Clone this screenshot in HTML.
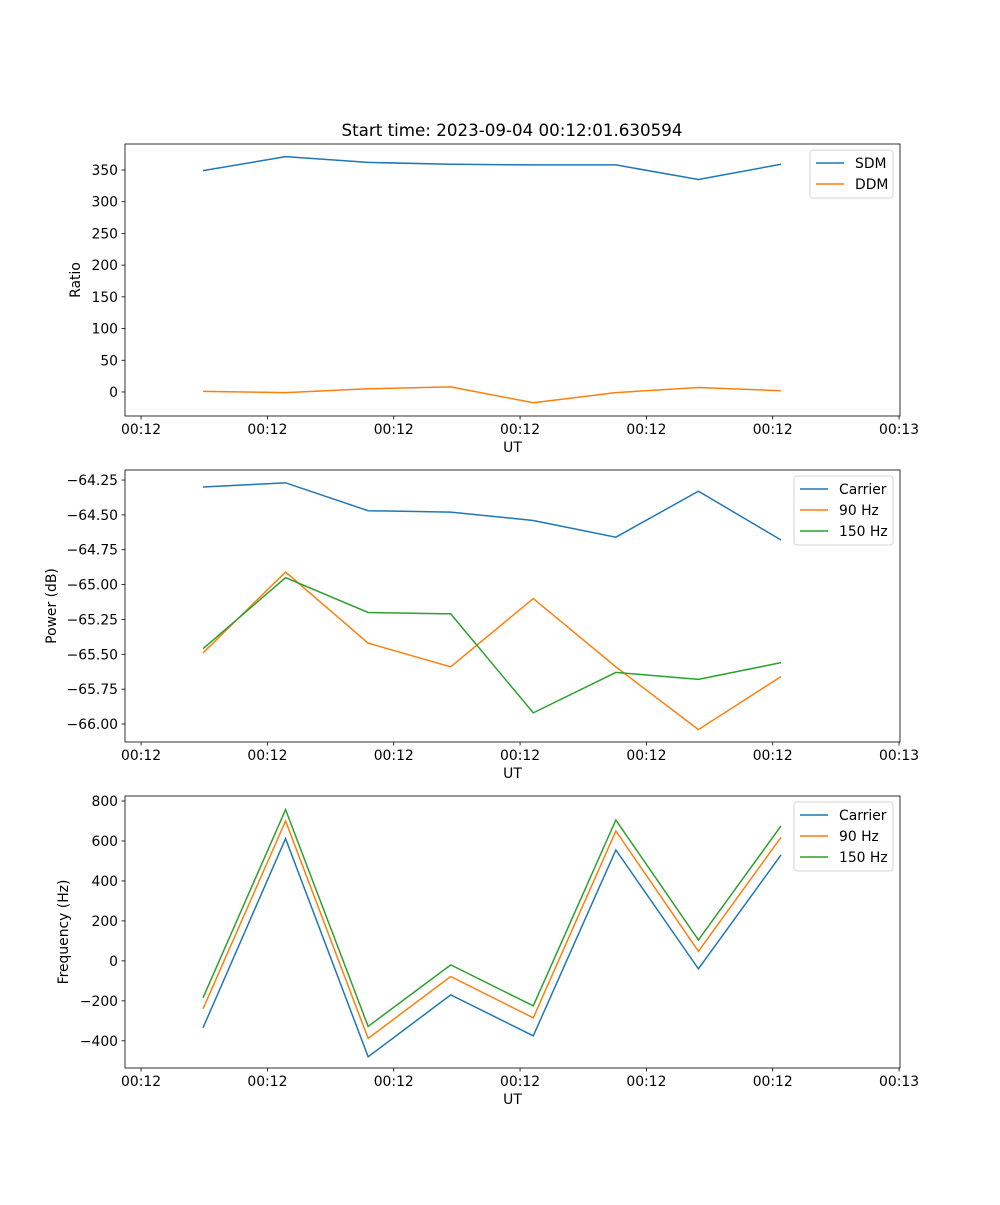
<!DOCTYPE html>
<html><head><meta charset="utf-8"><style>
body{margin:0;background:#fff}
text{font-family:"DejaVu Sans","Liberation Sans",sans-serif;font-size:13.9px;fill:#000}
</style></head><body>
<svg id="fig" width="1000" height="1200" xmlns="http://www.w3.org/2000/svg"></svg>
<script>
const pointIdx=[0,1,2,3,4,5,6,7];
const xTickPos=[-0.75,0.78,2.31,3.84,5.37,6.9,8.43];
const xTickLabels=["00:12","00:12","00:12","00:12","00:12","00:12","00:13"];
const sdm=[349,371,362,359,358,358,335,359];
const ddm=[1,-1,5,8,-17,-1,7,2];
const pCarrier=[-64.30,-64.27,-64.47,-64.48,-64.54,-64.66,-64.33,-64.68];
const p90=[-65.49,-64.91,-65.42,-65.59,-65.10,-65.59,-66.04,-65.66];
const p150=[-65.46,-64.95,-65.20,-65.21,-65.92,-65.63,-65.68,-65.56];
const fCarrier=[-335,612,-480,-170,-375,555,-40,530];
const f90=[-240,700,-388,-78,-285,650,48,618];
const f150=[-185,757,-328,-20,-225,705,105,675];
const ratioTicks=[0,50,100,150,200,250,300,350];
const powerTicks=[-66.00,-65.75,-65.50,-65.25,-65.00,-64.75,-64.50,-64.25];
const freqTicks=[-400,-200,0,200,400,600,800];
const C=["#1f77b4","#ff7f0e","#2ca02c"];
const svg=document.getElementById('fig');
const NS="http://www.w3.org/2000/svg";
function mk(tag,attrs,parent){const e=document.createElementNS(NS,tag);for(const k in attrs)e.setAttribute(k,attrs[k]);(parent||svg).appendChild(e);return e;}
const L=125,R=900;
const xs=i=>203+i*82.57;
const minus=s=>s.replace('-','\u2212');
function panel(name,top,bot,ymin,ymax,ticks,fmt,ylabel,series,names,legend,ylx){
  const g=mk('g',{});
  
  
  const ys=v=>bot-(v-ymin)/(ymax-ymin)*(bot-top);
  series.forEach((s,k)=>{
    const p=mk('polyline',{points:pointIdx.map(i=>xs(i)+','+ys(s[i])).join(' '),fill:'none',stroke:C[k],'stroke-width':1.5},g);
    
    
  });
  mk('rect',{x:L,y:top,width:R-L,height:bot-top,fill:'none',stroke:'#000','stroke-width':0.8},g);
  xTickPos.forEach((t,k)=>{const x=xs(t);mk('line',{x1:x,x2:x,y1:bot,y2:bot+3.5,stroke:'#000','stroke-width':0.8},g);
    const tx=mk('text',{x:x,y:bot+18,'text-anchor':'middle'},g);tx.textContent=xTickLabels[k];});
  ticks.forEach(t=>{const y=ys(t);mk('line',{x1:L-3.5,x2:L,y1:y,y2:y,stroke:'#000','stroke-width':0.8},g);
    const tx=mk('text',{x:L-7,y:y+5,'text-anchor':'end'},g);tx.textContent=minus(fmt(t));});
  const xl=mk('text',{x:(L+R)/2,y:bot+36,'text-anchor':'middle'},g);xl.textContent='UT';
  
  const yl=mk('text',{x:ylx,y:(top+bot)/2,'text-anchor':'middle',transform:`rotate(-90 ${ylx} ${(top+bot)/2})`},g);yl.textContent=ylabel;
  
  const lg=mk('g',{},g);
  
  mk('rect',{x:legend[0],y:top+6,width:R-7-legend[0],height:names.length*21+6,rx:3,fill:'#fff',stroke:'#ccc','stroke-opacity':0.8},lg);
  names.forEach((n,k)=>{const y=top+19+k*21;
    mk('line',{x1:legend[0]+6,x2:legend[0]+34,y1:y,y2:y,stroke:C[k],'stroke-width':1.5},lg);
    const t=mk('text',{x:legend[0]+45,y:y+5},lg);t.textContent=n;});
}
const title=mk('text',{x:512,y:136,'text-anchor':'middle',style:'font-size:16.7px'});
title.textContent='Start time: 2023-09-04 00:12:01.630594';

panel('ratio',144,416,-37.9,391,ratioTicks,v=>String(v),'Ratio',[sdm,ddm],['SDM','DDM'],[810],80);
panel('power',470,742,-66.129,-64.178,powerTicks,v=>v.toFixed(2),'Power (dB)',[pCarrier,p90,p150],['Carrier','90 Hz','150 Hz'],[794],56);
panel('frequency',796,1068,-536,825,freqTicks,v=>String(v),'Frequency (Hz)',[fCarrier,f90,f150],['Carrier','90 Hz','150 Hz'],[794],68);
</script>
</body></html>
